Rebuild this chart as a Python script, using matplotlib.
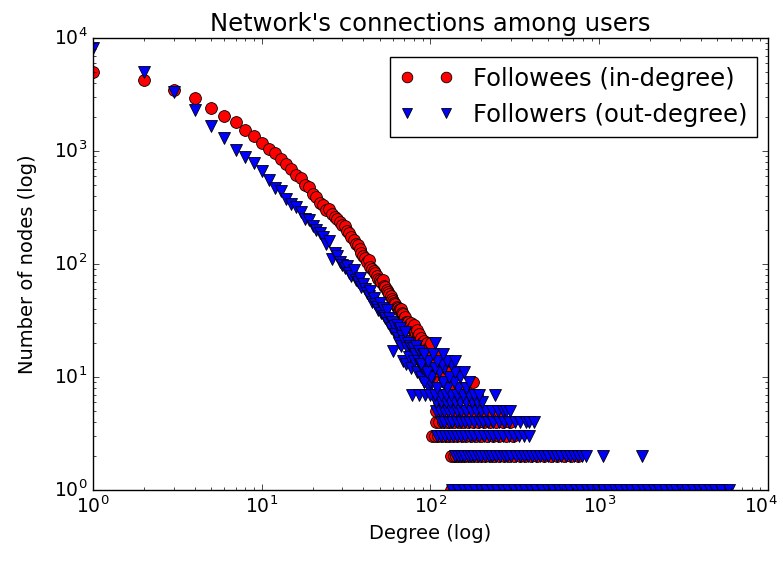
import numpy as np
import matplotlib
matplotlib.use('Agg')
import matplotlib.pyplot as plt
from matplotlib.transforms import ScaledTranslation

plt.style.use('classic')

# Количество узлов для степеней 1..100
head_degrees = list(range(1, 101))

in_counts = [
    5000, 4250, 3500, 2960, 2420, 2040, 1790, 1540, 1365, 1180,
    1040, 960, 850, 760, 700, 610, 575, 500, 480, 420,
    390, 345, 330, 300, 310, 275, 262, 250, 235, 221,
    215, 195, 190, 172, 163, 150, 148, 135, 125, 118,
    112, 105, 108, 95, 90, 86, 84, 78, 74, 72,
    70, 72, 64, 62, 59, 57, 54, 52, 49, 47,
    45, 44, 42, 41, 39, 40, 40, 37, 36, 33,
    34, 31, 30, 31, 29, 28, 30, 27, 26, 29,
    25, 24, 26, 23, 22, 24, 21, 22, 20, 19,
    21, 18, 19, 17, 20, 16, 18, 15, 17, 16,
]

out_counts = [
    8200, 5000, 3350, 2300, 1670, 1310, 1020, 890, 780, 660,
    550, 470, 440, 380, 340, 320, 290, 250, 245, 215,
    200, 187, 175, 150, 160, 110, 125, 118, 104, 98,
    92, 96, 84, 78, 88, 72, 70, 75, 62, 66,
    60, 55, 52, 58, 46, 50, 44, 42, 39, 45,
    37, 41, 35, 33, 39, 30, 33, 27, 31, 17,
    28, 24, 29, 22, 20, 27, 19, 23, 14, 21,
    25, 13, 18, 20, 15, 19, 12, 7, 18, 14,
    16, 19, 11, 14, 17, 7, 13, 10, 12, 16,
    14, 9, 7, 13, 11, 10, 14, 8, 9, 12,
]

# Хвост: степени (>100) для каждого малого значения числа узлов
tail_levels = [1, 2, 3, 4, 5, 6, 7, 8, 9, 10, 11, 12, 13, 14, 16, 20]

in_tail = [
    [133, 141, 152, 166, 180, 195, 214, 233, 255, 278, 305, 332, 362, 398,
     435, 475, 520, 570, 622, 680, 745, 815, 890, 975, 1065, 1165, 1275,
     1395, 1525, 1670, 1825, 2000, 2190, 2400, 2620, 2870, 3140, 3440,
     3760, 4120, 4500, 4930, 5400],
    [133, 137, 142, 148, 154, 161, 169, 178, 188, 199, 211, 224, 238, 254,
     272, 292, 314, 338, 365, 395, 430, 470, 515, 565, 620, 680, 745],
    [102, 106, 111, 117, 123, 129, 136, 144, 153, 163, 174, 186, 200, 216,
     234, 255, 280, 310],
    [108, 113, 119, 125, 131, 138, 147, 156, 166, 178, 192, 207, 225, 245,
     268, 295],
    [108, 118, 126, 134, 145, 155, 168, 185, 205, 230, 255],
    [112, 140, 170],
    [142, 189],
    [130, 160],
    [122, 178],
    [103, 135],
    [119, 148],
    [110, 125],
    [],
    [104, 115],
    [108],
    [101],
]

out_tail = [
    [135, 146, 157, 170, 183, 198, 213, 230, 248, 268, 289, 312, 337, 364,
     393, 424, 458, 494, 533, 576, 621, 671, 724, 781, 843, 910, 982, 1060,
     1144, 1235, 1333, 1439, 1553, 1676, 1809, 1953, 2108, 2275, 2456,
     2651, 2861, 3088, 3333, 3598, 3883, 4191, 4524, 4883, 5270, 5860],
    [140, 146, 152, 159, 166, 174, 182, 191, 200, 210, 221, 232, 244, 257,
     271, 286, 302, 319, 337, 356, 376, 398, 421, 446, 472, 500, 530, 562,
     596, 632, 670, 710, 752, 795, 835, 1050, 1790],
    [110, 116, 122, 129, 136, 144, 152, 161, 171, 182, 194, 207, 221, 236,
     252, 270, 290, 312, 335, 360, 385],
    [115, 121, 128, 135, 143, 151, 160, 170, 181, 193, 206, 220, 236, 253,
     272, 292, 315, 340, 368, 385, 410],
    [108, 114, 120, 127, 135, 143, 152, 162, 173, 185, 198, 213, 230, 250,
     270, 280, 294],
    [108, 115, 123, 131, 140, 150, 162, 175, 188, 203],
    [100, 107, 115, 124, 133, 143, 155, 168, 182, 195, 240],
    [109, 125, 146, 162],
    [92, 118, 137, 170],
    [101, 128, 150],
    [95, 113, 140, 159],
    [106, 121],
    [88, 117, 133],
    [97, 110, 126, 140],
    [92, 104, 118],
    [106],
]


def collect(counts, tail):
    xs = list(head_degrees)
    ys = list(counts)
    for level, degs in zip(tail_levels, tail):
        xs += degs
        ys += [level] * len(degs)
    return np.array(xs), np.array(ys)


in_x, in_y = collect(in_counts, in_tail)
out_x, out_y = collect(out_counts, out_tail)

fig = plt.figure(figsize=(7.83, 5.65), dpi=100, facecolor='white')
ax = fig.add_axes([0.1188, 0.1327, 0.862, 0.80])

ax.loglog(in_x, in_y, 'ro', markersize=8.5, markeredgecolor='k',
          markeredgewidth=0.6, label='Followees (in-degree)')
ax.loglog(out_x, out_y, 'bv', markersize=8.5, markeredgecolor='k',
          markeredgewidth=0.6, label='Followers (out-degree)')

ax.set_xlim(1, 1e4)
ax.set_ylim(1, 1e4)
ax.set_title("Network's connections among users", fontsize=17.5)
ax.set_xlabel('Degree (log)', fontsize=14)
ax.set_ylabel('Number of nodes (log)', fontsize=14, labelpad=12)
ax.tick_params(labelsize=13.5)
ax.legend(loc='upper right', bbox_to_anchor=(0.984, 0.958), borderaxespad=0,
          numpoints=2, fontsize=17.5, handlelength=2.2, markerscale=0.9)

# подпись 10^4 у правого края чуть сдвигаем, чтобы не обрезалась
fig.canvas.draw()
for tick in ax.xaxis.get_major_ticks():
    if np.isclose(tick.get_loc(), 1e4):
        tick.label1.set_transform(tick.label1.get_transform() +
                                  ScaledTranslation(-5 / 72, 0, fig.dpi_scale_trans))

fig.savefig('out.png', dpi=100, facecolor='white')
